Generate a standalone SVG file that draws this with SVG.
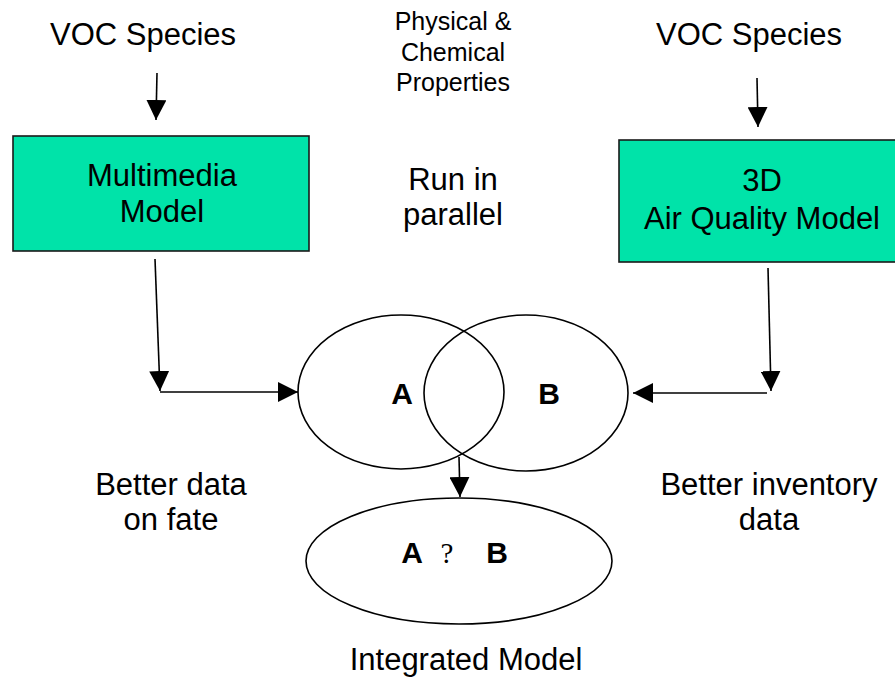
<svg xmlns="http://www.w3.org/2000/svg" width="895" height="677" viewBox="0 0 895 677">
<style>
  text { font-family: "Liberation Sans", Arial, sans-serif; fill: #000; text-anchor: middle; }
  .big { font-size: 31px; }
  .small { font-size: 25px; }
  .bold { font-size: 30px; font-weight: bold; }
  .box { fill: #00E3A9; stroke: #1a1a1a; stroke-width: 1.6; }
  .ell { fill: none; stroke: #000; stroke-width: 1.6; }
  .conn line { stroke: #000; stroke-width: 1.6; }
</style>
<defs>
  <marker id="ah" viewBox="0 0 20 20" refX="20" refY="10" markerWidth="20" markerHeight="20" markerUnits="userSpaceOnUse" orient="auto">
    <path d="M0,0 L20,10 L0,20 Z" fill="#000"/>
  </marker>
</defs>
<rect width="895" height="677" fill="#fff"/>

<g id="voc-left"><text class="big" x="143" y="45">VOC Species</text></g>
<g id="voc-right"><text class="big" x="749" y="45">VOC Species</text></g>
<g id="phys-chem">
  <text class="small" x="453" y="30">Physical &amp;</text>
  <text class="small" x="453" y="61">Chemical</text>
  <text class="small" x="453" y="91">Properties</text>
</g>
<g id="multimedia">
  <rect class="box" x="13" y="136" width="296" height="115"/>
  <text class="big" x="162" y="186">Multimedia</text>
  <text class="big" x="162" y="222">Model</text>
</g>
<g id="run-parallel">
  <text class="big" x="453" y="190">Run in</text>
  <text class="big" x="453" y="225">parallel</text>
</g>
<g id="airquality">
  <rect class="box" x="619" y="140" width="285" height="122"/>
  <text class="big" x="762" y="191">3D</text>
  <text class="big" x="762" y="229">Air Quality Model</text>
</g>
<g id="ellipse-a"><ellipse class="ell" cx="401" cy="392" rx="103" ry="77"/></g>
<g id="ellipse-b"><ellipse class="ell" cx="526" cy="393" rx="102" ry="78"/></g>
<g id="labels-ab">
  <text class="bold" x="402" y="404">A</text>
  <text class="bold" x="549" y="404">B</text>
</g>
<g id="integrated">
  <ellipse class="ell" cx="459" cy="561" rx="153" ry="63"/>
  <text class="bold" x="412" y="563">A</text>
  <text x="447" y="563" style="font-family:'Liberation Serif','Times New Roman',serif;font-size:29px;">?</text>
  <text class="bold" x="497" y="563">B</text>
</g>
<g id="integrated-label"><text class="big" x="466" y="670">Integrated Model</text></g>
<g id="fate-label">
  <text class="big" x="171" y="495">Better data</text>
  <text class="big" x="171" y="530">on fate</text>
</g>
<g id="inventory-label">
  <text class="big" x="769" y="495">Better inventory</text>
  <text class="big" x="769" y="530">data</text>
</g>

<g id="connectors" class="conn">
  <line x1="157" y1="73" x2="156" y2="120" marker-end="url(#ah)"/>
  <line x1="757" y1="78" x2="758" y2="127" marker-end="url(#ah)"/>
  <line x1="155" y1="259" x2="160" y2="391" marker-end="url(#ah)"/>
  <line x1="160" y1="392" x2="298" y2="392" marker-end="url(#ah)"/>
  <line x1="768" y1="268" x2="771" y2="391" marker-end="url(#ah)"/>
  <line x1="767" y1="393" x2="633" y2="393" marker-end="url(#ah)"/>
  <line x1="459" y1="457" x2="460" y2="497" marker-end="url(#ah)"/>
</g>
</svg>
